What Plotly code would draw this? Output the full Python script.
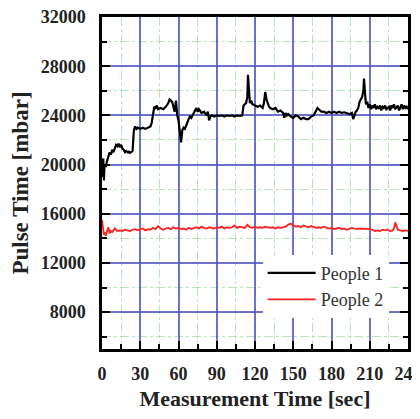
import plotly.graph_objects as go

# People 1 (black)
t1 = [0, 0.5, 1, 1.5, 2, 3, 4, 5, 6, 7, 8, 9, 10, 11, 12, 13, 14, 15, 16, 17, 18, 19, 20, 21, 22, 23, 24,
      25, 26, 27, 28, 30, 32, 34, 36, 38, 39, 40, 41, 42, 43, 44, 46, 48, 50, 52, 53, 54, 55, 56, 57, 58, 59,
      60, 61, 62, 63, 64, 65, 66, 67, 68, 69, 70, 72, 74, 75, 76, 78, 80, 82, 83, 84, 85, 86, 88, 90, 92, 94,
      96, 98, 100, 102, 104, 106, 108, 110, 111, 112, 113, 114, 114.5, 115, 115.5, 116, 117, 118, 120, 122,
      124, 126, 127, 128, 129, 130, 131, 132, 134, 136, 138, 140, 142, 143, 144, 145, 146, 148, 150, 152, 154,
      156, 158, 160, 162, 164, 166, 168, 169, 170, 172, 174, 176, 178, 180, 182, 184, 186, 188, 190, 192, 194,
      196, 197, 198, 199, 200, 201, 202, 203, 204, 205, 205.5, 206, 206.5, 207, 208, 209, 210, 211, 212, 213,
      214, 215, 216, 217, 218, 219, 220, 221, 222, 223, 224, 225, 226, 227, 228, 229, 230, 231, 232, 233, 234,
      235, 236, 237, 238, 239, 240]
p1 = [20200, 19000, 20500, 18700, 20000, 19800, 20300, 20600, 21000, 20800, 21200, 21000, 21400, 21600, 21500,
      21700, 21400, 21600, 21300, 21200, 21000, 21100, 21000, 21050, 20950, 21000, 21100,
      22800, 23100, 22900, 23000, 22900, 23000, 22900, 23000, 23100, 23400, 24200, 24700, 24600, 24800, 24500,
      24600, 24500, 24700, 25000, 25300, 25200, 25100, 24700, 24300, 25200, 24000,
      23600, 22500, 21800, 22800, 23000, 22900, 23200, 23500, 23700, 23900, 23800, 24200, 24600, 24300, 24500,
      24200, 24300, 24000, 24300, 23600, 23900, 24000, 23900, 24000, 23950, 24000,
      23900, 24000, 23950, 24000, 23900, 24000, 23950, 24000, 24800, 24900, 25000, 25500, 27300, 26500, 25500,
      25000, 25200, 24900, 24800, 24700,
      24800, 24600, 25000, 25900, 25300, 24900, 24700, 24600, 24500, 24600, 24300, 24400, 24200, 23800, 24200,
      24000, 24100, 23900, 23800, 24000, 23900,
      23700, 23800, 23700, 23700, 23900, 24000, 24400, 24600, 24500, 24300, 24300, 24200, 24300, 24200, 24300,
      24200, 24300, 24200, 24250, 24200, 24100,
      24200, 23700, 24000, 24300, 24400, 24600, 25100, 25300, 25500, 26000, 27000, 26200, 25400, 24900, 25100,
      24600, 24900, 24500, 24800, 24600,
      24900, 24500, 24700, 24600, 24800, 24400, 24700, 24600, 24800, 24500, 24600, 24700, 24400, 24800, 24600,
      24900, 24500, 24700, 24800, 24400, 24700,
      24900, 24500, 24800, 24600, 24700, 24500]

# People 2 (red)
t2 = [0, 0.5, 1, 1.5, 2, 3, 4, 5, 6, 7, 8, 9, 10, 12, 14, 16, 18, 20, 22, 24, 26, 28, 30, 32, 34, 36, 38, 40,
      42, 44, 46, 48, 50, 52, 54, 56, 58, 60, 62, 64, 66, 68, 70, 72, 74, 76, 78, 80, 82, 84, 86, 88, 90, 92,
      94, 96, 98, 100, 102, 104, 106, 108, 110, 112, 114, 116, 118, 120, 122, 124, 126, 128, 130, 132, 134,
      136, 138, 140, 142, 144, 146, 148, 150, 152, 154, 156, 158, 160, 162, 164, 166, 168, 170, 172, 174, 176,
      178, 180, 182, 184, 186, 188, 190, 192, 194, 196, 198, 200, 202, 204, 206, 208, 210, 212, 214, 216, 218,
      220, 222, 224, 226, 228, 229, 230, 231, 232, 234, 236, 238, 240]
p2 = [15500, 15200, 14800, 14300, 14500, 14200, 14600, 14900, 14400, 14600, 14500, 14700, 14800, 14600, 14650,
      14600, 14700, 14650, 14600, 14700, 14750, 14650, 14700, 14800, 14650, 14750, 14700, 14850,
      14750, 15000, 14800, 14700, 14800, 14850, 14750, 14900, 14800, 14850, 14750, 14800, 14700, 14850, 14750,
      14800, 14900, 14800, 14950, 14850, 14800, 14900, 14850, 14800, 14900, 14850,
      14950, 14800, 14900, 14850, 14900, 15050, 14850, 14950, 14900, 14850, 15100, 14900, 14850, 14950, 14850,
      14900, 14850, 14950, 14900, 14850, 14900,
      14800, 14900, 14850, 14900, 14950, 15100, 15200, 15050, 14950, 15000, 14900, 15050, 14950, 14900, 15000,
      14950, 14850, 14900, 14850, 14950, 14850,
      14800, 14850, 14750, 14800, 14850, 14750, 14800, 14700, 14750, 14850, 14800, 14750, 14800, 14800, 14750,
      14800, 14750, 14700, 14600, 14650, 14600,
      14700, 14650, 14700, 14600, 14650, 14800, 15300, 14900, 14700, 14650, 14600, 14650, 14600]

x_ticks = [0, 30, 60, 90, 120, 150, 180, 210, 240]
y_ticks = [8000, 12000, 16000, 20000, 24000, 28000, 32000]

serif = "Liberation Serif, Times New Roman, serif"
major_grid = "rgba(80,80,195,0.8)"
minor_grid = "rgba(140,210,140,0.6)"

fig = go.Figure()
fig.add_trace(go.Scatter(x=t1, y=p1, mode="lines", name="People 1",
                         line=dict(color="black", width=2.2)))
fig.add_trace(go.Scatter(x=t2, y=p2, mode="lines", name="People 2",
                         line=dict(color="#ff2020", width=1.8)))

# page body has an 8px margin, so the figure is offset to compensate
fig.update_layout(
    width=420, height=403,
    margin=dict(l=94, r=20, t=9, b=62),
    paper_bgcolor="white", plot_bgcolor="white",
    font=dict(family=serif, color="#222222"),
    showlegend=True,
    legend=dict(x=0.525, y=0.284, xanchor="left", yanchor="top",
                bgcolor="white", borderwidth=0,
                font=dict(family=serif, size=18, color="#333333"),
                itemwidth=48, tracegroupgap=0),
)

fig.update_xaxes(
    range=[0, 240], tickvals=x_ticks, ticktext=[str(v) for v in x_ticks],
    automargin=False, ticklabeloverflow="allow",
    showgrid=True, gridcolor=major_grid, gridwidth=1.6,
    showline=True, linecolor="black", linewidth=2.5, mirror=True,
    ticks="inside", ticklen=8, tickwidth=2, tickcolor="black", ticklabelstandoff=7,
    tickfont=dict(family=serif, size=18, color="#222222", weight="bold"),
    zeroline=False,
    minor=dict(dtick=15, tick0=15, ticks="inside", ticklen=5, tickwidth=1.5, tickcolor="black",
               showgrid=True, gridcolor=minor_grid, griddash="dashdot", gridwidth=1),
    title=dict(text="Measurement Time [sec]", standoff=8,
               font=dict(family=serif, size=22, color="#222222", weight="bold")),
)
fig.update_yaxes(
    range=[5000, 32000], tickvals=y_ticks, ticktext=[str(v) for v in y_ticks],
    automargin=False, ticklabeloverflow="allow",
    showgrid=True, gridcolor=major_grid, gridwidth=1.6,
    showline=True, linecolor="black", linewidth=2.5, mirror="allticks",
    ticks="inside", ticklen=8, tickwidth=2, tickcolor="black", ticklabelstandoff=10,
    tickfont=dict(family=serif, size=18, color="#222222", weight="bold"),
    zeroline=False,
    minor=dict(dtick=2000, tick0=6000, ticks="inside", ticklen=5, tickwidth=1.5, tickcolor="black",
               showgrid=True, gridcolor=minor_grid, griddash="dashdot", gridwidth=1),
    title=dict(text="Pulse Time [mbar]", standoff=6,
               font=dict(family=serif, size=23, color="#222222", weight="bold")),
)

fig.write_html("out.html")
